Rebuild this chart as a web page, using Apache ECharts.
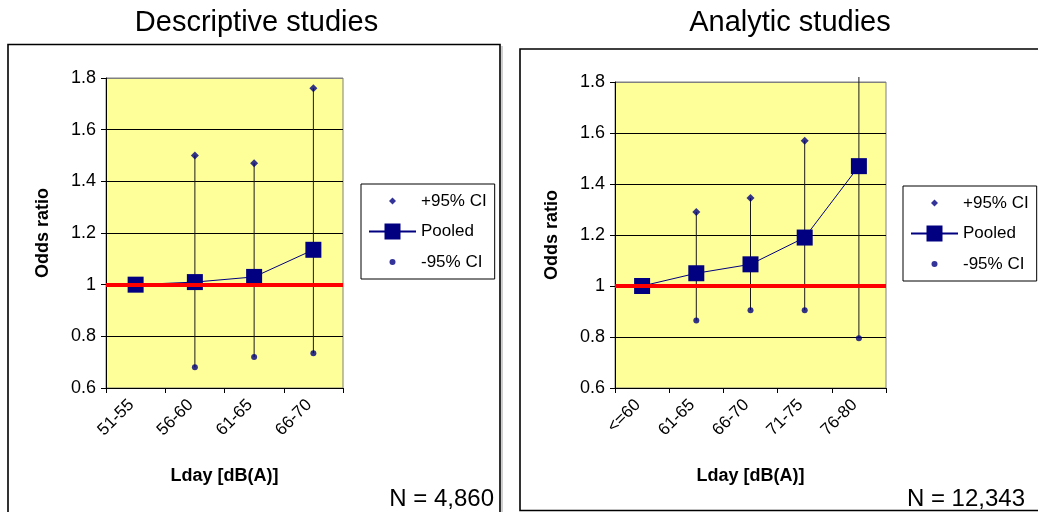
<!DOCTYPE html>
<html>
<head>
<meta charset="utf-8">
<title>Odds ratio by Lday</title>
<script src="https://cdn.jsdelivr.net/npm/echarts@6/dist/echarts.min.js"></script>
<style>
  html, body { margin: 0; padding: 0; background: #ffffff; }
  #chart { width: 1038px; height: 512px; }
</style>
</head>
<body>
<div id="chart"></div>
<script>
// Descriptive studies: pooled odds ratio and 95% confidence limits per Lday band
const descCategories = ['51-55', '56-60', '61-65', '66-70'];
const descPooled = [1.00, 1.01, 1.03, 1.135];
const descUpper = [null, 1.50, 1.47, 1.76];
const descLower = [null, 0.68, 0.72, 0.735];

// Analytic studies (upper limit of the 76-80 band lies above the axis range)
const anaCategories = ['<=60', '61-65', '66-70', '71-75', '76-80'];
const anaPooled = [1.00, 1.05, 1.085, 1.19, 1.47];
const anaUpper = [null, 1.29, 1.345, 1.57, 2.0];
const anaLower = [null, 0.865, 0.905, 0.905, 0.795];

const yTicks = { min: 0.6, max: 1.8, interval: 0.2 };
const referenceOR = 1;

const FONT = 'Liberation Sans, Arial, Helvetica, sans-serif';
const NAVY = '#000080';

function ciData(upper, lower) {
  const out = [];
  upper.forEach((u, i) => {
    if (u != null && lower[i] != null) out.push([i, lower[i], u]);
  });
  return out;
}

// vertical whisker from lower to upper limit; stops just above the plot top
function renderWhisker(params, api) {
  const lo = api.coord([api.value(0), api.value(1)]);
  const hi = api.coord([api.value(0), api.value(2)]);
  const top = params.coordSys.y - 5;
  return {
    type: 'line',
    shape: { x1: lo[0], y1: lo[1], x2: hi[0], y2: Math.max(hi[1], top) },
    style: { stroke: '#1a1a1a', lineWidth: 1 }
  };
}

function xAxis(gridIndex, cats) {
  return {
    type: 'category', gridIndex, data: cats, boundaryGap: true,
    name: 'Lday [dB(A)]', nameLocation: 'middle', nameGap: 79,
    nameTextStyle: { fontFamily: FONT, fontSize: 18, fontWeight: 'bold', color: '#000' },
    axisLine: { lineStyle: { color: '#000', width: 1 } },
    axisTick: { show: true, interval: 0, length: 5, lineStyle: { color: '#000' } },
    axisLabel: { rotate: 45, interval: 0, margin: 10, fontFamily: FONT, fontSize: 17, color: '#000',
                 padding: [0, 6, 0, 0] },
    splitLine: { show: false }
  };
}

function yAxis(gridIndex) {
  return {
    type: 'value', gridIndex,
    min: yTicks.min, max: yTicks.max, interval: yTicks.interval,
    name: 'Odds ratio', nameLocation: 'middle', nameGap: 54, nameRotate: 90,
    nameTextStyle: { fontFamily: FONT, fontSize: 18, fontWeight: 'bold', color: '#000' },
    axisLine: { show: true, lineStyle: { color: '#000', width: 1 } },
    axisTick: { show: true, length: 5, lineStyle: { color: '#000' } },
    axisLabel: { margin: 10, fontFamily: FONT, fontSize: 18, color: '#000' },
    splitLine: {
      show: true,
      lineStyle: { color: ['#000', '#000', '#000', '#000', '#000', '#000', '#808080'], width: 1 }
    }
  };
}

function seriesFor(idx, pooled, upper, lower) {
  return [
    {
      type: 'custom', name: 'CI range', xAxisIndex: idx, yAxisIndex: idx,
      renderItem: renderWhisker, data: ciData(upper, lower),
      encode: { x: 0, y: [1, 2] }, z: 1, silent: true
    },
    {
      type: 'line', name: 'Pooled', xAxisIndex: idx, yAxisIndex: idx,
      data: pooled, symbol: 'rect', symbolSize: 16,
      lineStyle: { color: NAVY, width: 1 }, itemStyle: { color: NAVY },
      z: 3, silent: true, animation: false,
      markLine: {
        silent: true, symbol: 'none', animation: false,
        label: { show: false },
        lineStyle: { color: '#ff0000', width: 4, type: 'solid' },
        data: [{ yAxis: referenceOR }]
      }
    },
    {
      type: 'scatter', name: '+95% CI', xAxisIndex: idx, yAxisIndex: idx,
      data: upper, symbol: 'diamond', symbolSize: 8,
      itemStyle: { color: NAVY }, z: 4, silent: true
    },
    {
      type: 'scatter', name: '-95% CI', xAxisIndex: idx, yAxisIndex: idx,
      data: lower, symbol: 'circle', symbolSize: 6,
      itemStyle: { color: NAVY }, z: 4, silent: true
    }
  ];
}

// small legend markers centred in the 47x20 icon box
const diamondIcon = 'path://M0,0M47,20M23.5,6.5L27,10L23.5,13.5L20,10Z';
const dotIcon = 'path://M0,0M47,20M20.5,10A3,3,0,1,1,26.5,10A3,3,0,1,1,20.5,10Z';

function legendAt(left, top) {
  return {
    orient: 'vertical', left, top,
    padding: [7, 8, 7, 7], itemWidth: 47, itemHeight: 20, itemGap: 12,
    borderColor: '#000', borderWidth: 1, backgroundColor: '#fff',
    selectedMode: false,
    textStyle: { fontFamily: FONT, fontSize: 17, color: '#000' },
    data: [
      { name: '+95% CI', icon: diamondIcon },
      { name: 'Pooled' },
      { name: '-95% CI', icon: dotIcon }
    ]
  };
}

const chart = echarts.init(document.getElementById('chart'), null, { renderer: 'canvas' });

chart.setOption({
  animation: false,
  backgroundColor: '#ffffff',
  grid: [
    { left: 106, top: 78, width: 237, height: 310, show: true,
      backgroundColor: '#FFFF99', borderColor: '#808080', borderWidth: 1 },
    { left: 615, top: 82, width: 271, height: 306, show: true,
      backgroundColor: '#FFFF99', borderColor: '#808080', borderWidth: 1 }
  ],
  xAxis: [xAxis(0, descCategories), xAxis(1, anaCategories)],
  yAxis: [yAxis(0), yAxis(1)],
  legend: [legendAt(361, 184), legendAt(903, 186)],
  series: [
    ...seriesFor(0, descPooled, descUpper, descLower),
    ...seriesFor(1, anaPooled, anaUpper, anaLower)
  ],
  graphic: [
    { type: 'rect', z: -10, silent: true,
      shape: { x: 8, y: 44.5, width: 492, height: 500 },
      style: { fill: 'none', stroke: '#000', lineWidth: 1.6 } },
    { type: 'line', z: -10, silent: true,
      shape: { x1: 502, y1: 46, x2: 502, y2: 512 },
      style: { stroke: '#a0a0a0', lineWidth: 1 } },
    { type: 'rect', z: -10, silent: true,
      shape: { x: 520, y: 49, width: 540, height: 461.5 },
      style: { fill: 'none', stroke: '#000', lineWidth: 1.6 } },
    { type: 'text', silent: true, x: 256.5, y: 22.5,
      style: { text: 'Descriptive studies', font: '29px ' + FONT, fill: '#000',
               textAlign: 'center', textVerticalAlign: 'middle' } },
    { type: 'text', silent: true, x: 790, y: 22.5,
      style: { text: 'Analytic studies', font: '29px ' + FONT, fill: '#000',
               textAlign: 'center', textVerticalAlign: 'middle' } },
    { type: 'text', silent: true, x: 494, y: 499,
      style: { text: 'N = 4,860', font: '24px ' + FONT, fill: '#000',
               textAlign: 'right', textVerticalAlign: 'middle' } },
    { type: 'text', silent: true, x: 1025, y: 499,
      style: { text: 'N = 12,343', font: '24px ' + FONT, fill: '#000',
               textAlign: 'right', textVerticalAlign: 'middle' } }
  ]
});
</script>
</body>
</html>
